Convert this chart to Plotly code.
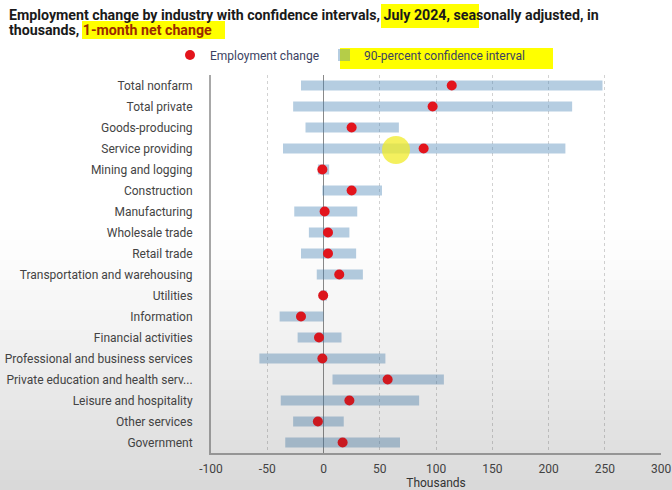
import plotly.graph_objects as go

industries = [
    "Total nonfarm", "Total private", "Goods-producing", "Service providing",
    "Mining and logging", "Construction", "Manufacturing", "Wholesale trade",
    "Retail trade", "Transportation and warehousing", "Utilities", "Information",
    "Financial activities", "Professional and business services",
    "Private education and health serv...", "Leisure and hospitality",
    "Other services", "Government",
]
change = [114, 97, 25, 89, -1, 25, 1, 4, 4, 14, -0.3, -20, -4, -1, 57, 23, -5, 17]
ci_low = [-20, -27, -16, -36, -5, -1, -26, -13, -20, -6, -2.5, -39, -23, -57, 8, -38, -27, -34]
ci_high = [248, 221, 67, 215, 5, 52, 30, 23, 29, 35, 3, 0, 16, 55, 107, 85, 18, 68]
x_ticks = [-100, -50, 0, 50, 100, 150, 200, 250, 300]

W, H = 672, 490
L, R, T, B = 211, 11, 75, 37
PW, PH = W - L - R, H - T - B


def px(p):
    return (p - L) / PW


def py(p):
    return (H - B - p) / PH


fig = go.Figure()
fig.add_trace(go.Bar(
    y=industries, x=[h - l for l, h in zip(ci_low, ci_high)], base=ci_low,
    orientation="h", width=0.48,
    marker=dict(color="rgba(70,130,180,0.40)", line=dict(width=0)),
    name="90-percent confidence interval", legendrank=2, hoverinfo="skip",
))
fig.add_trace(go.Scatter(
    y=industries, x=change, mode="markers",
    marker=dict(color="#e3141c", size=10, line=dict(width=0)),
    name="Employment change", legendrank=1,
))

shapes = []
# yellow highlights
for x0, x1, y0, y1 in [(381, 479, 4, 28), (82, 225, 21, 39), (340, 553, 48, 69)]:
    shapes.append(dict(type="rect", xref="paper", yref="paper",
                       x0=px(x0), x1=px(x1), y0=py(y1), y1=py(y0),
                       fillcolor="#ffff00", line=dict(width=0), layer="below"))
# cursor highlight
shapes.append(dict(type="circle", xref="paper", yref="paper",
                   x0=px(382), x1=px(410), y0=py(164), y1=py(136),
                   fillcolor="rgba(240,235,40,0.75)", line=dict(width=0), layer="above"))
# screen gradient toward the bottom
n = 26
for i in range(n):
    y0 = 230 + i * (260 / n)
    y1 = y0 + 260 / n
    a = 0.20 * ((i + 0.5) / n) ** 1.2
    shapes.append(dict(type="rect", xref="paper", yref="paper",
                       x0=px(0), x1=px(W), y0=py(y1), y1=py(y0),
                       fillcolor=f"rgba(60,60,60,{a:.3f})", line=dict(width=0), layer="above"))

annotations = [
    dict(xref="paper", yref="paper", x=px(7), y=py(15), xanchor="left", yanchor="middle",
         showarrow=False, align="left",
         text="<b>Employment change by industry with confidence intervals, July 2024, seasonally adjusted, in</b>",
         font=dict(family="Roboto, Arial", size=14.2, color="#1a1a1a")),
    dict(xref="paper", yref="paper", x=px(7), y=py(30), xanchor="left", yanchor="middle",
         showarrow=False, align="left",
         text="<b>thousands, <span style='color:#9c2a00'>1-month net change</span></b>",
         font=dict(family="Roboto, Arial", size=14.2, color="#1a1a1a")),
]

fig.update_layout(
    width=W, height=H,
    margin=dict(l=L, r=R, t=T, b=B, pad=0, autoexpand=False),
    paper_bgcolor="white", plot_bgcolor="white",
    font=dict(family="Roboto, Arial", size=12, color="#444"),
    showlegend=True,
    legend=dict(orientation="h", x=px(350), xanchor="center", y=py(55), yanchor="middle",
                font=dict(size=12, color="#3b4262"), bgcolor="rgba(0,0,0,0)",
                itemwidth=30, traceorder="normal"),
    shapes=shapes,
    annotations=annotations,
    xaxis=dict(range=[-100, 300], tickvals=x_ticks, ticktext=[str(v) for v in x_ticks],
               showgrid=True, gridcolor="#d2d2d2", griddash="dot", gridwidth=1,
               zeroline=True, zerolinecolor="#8a8a8a", zerolinewidth=1,
               showline=True, linecolor="#a8a8a8", linewidth=2,
               ticks="", ticklabelstandoff=4,
               tickfont=dict(size=12, color="#444"), automargin=False,
               title=dict(text="Thousands", font=dict(size=12, color="#333"), standoff=4),
               fixedrange=True),
    yaxis=dict(range=[len(industries) - 0.5, -0.5], autorange=False,
               showgrid=False, zeroline=False,
               showline=True, linecolor="#a8a8a8", linewidth=2,
               ticks="", ticklabelstandoff=14, automargin=False,
               tickfont=dict(size=12, color="#444"), fixedrange=True),
)

fig.write_html("out.html", config={"displayModeBar": False},
               post_script="document.body.style.margin='0';document.body.style.padding='0';")
